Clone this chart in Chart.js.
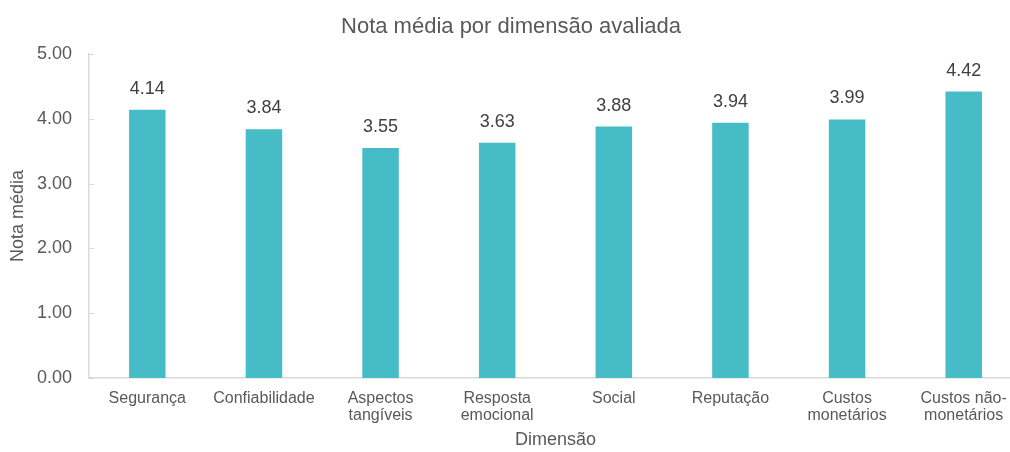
<!DOCTYPE html>
<html>
<head>
<meta charset="utf-8">
<script src="https://cdn.jsdelivr.net/npm/chart.js@4/dist/chart.umd.min.js"></script>
<style>
    html, body { margin: 0; padding: 0; background: #fff; overflow: hidden; }
    #wrap { width: 1022px; height: 452px; }
</style>
</head>
<body>
<div id="wrap"><canvas id="chart" width="1022" height="452"></canvas></div>
<script>
const categories = [
    'Segurança', 'Confiabilidade', ['Aspectos', 'tangíveis'], ['Resposta', 'emocional'],
    'Social', 'Reputação', ['Custos', 'monetários'], ['Custos não-', 'monetários']
]
const notas = [4.14, 3.84, 3.55, 3.63, 3.88, 3.94, 3.99, 4.42]
const yTicks = [0, 1, 2, 3, 4, 5]

const textColor = '#595959'
const axisColor = '#D9D9D9'
const fontFamily = '"Liberation Sans", Arial, sans-serif'

// value labels above each bar
const barLabels = {
    id: 'barLabels',
    afterDatasetsDraw(chart) {
        const ctx = chart.ctx
        const meta = chart.getDatasetMeta(0)
        ctx.save()
        ctx.font = '18px ' + fontFamily
        ctx.fillStyle = '#404040'
        ctx.textAlign = 'center'
        ctx.textBaseline = 'middle'
        meta.data.forEach((bar, i) => {
            ctx.fillText(notas[i].toFixed(2), bar.x, bar.y - 21)
        })
        ctx.restore()
    }
}

// small inward tick marks on the value axis
const innerTicks = {
    id: 'innerTicks',
    afterDraw(chart) {
        const ctx = chart.ctx
        const y = chart.scales.y
        ctx.save()
        ctx.strokeStyle = axisColor
        ctx.lineWidth = 1
        y.ticks.forEach(t => {
            const py = Math.round(y.getPixelForValue(t.value)) + 0.5
            ctx.beginPath()
            ctx.moveTo(y.right, py)
            ctx.lineTo(y.right + 5, py)
            ctx.stroke()
        })
        ctx.restore()
    }
}

new Chart(document.getElementById('chart'), {
    type: 'bar',
    data: {
        labels: categories,
        datasets: [{
            data: notas,
            backgroundColor: '#46BDC6',
            categoryPercentage: 1.0,
            barPercentage: 0.313,
        }]
    },
    options: {
        responsive: false,
        animation: false,
        layout: { padding: 0 },
        plugins: {
            legend: { display: false },
            tooltip: { enabled: false },
            title: {
                display: true,
                text: 'Nota média por dimensão avaliada',
                color: textColor,
                font: { family: fontFamily, size: 22, weight: 'normal' },
                padding: { top: 14, bottom: 13.6 },
            },
        },
        scales: {
            x: {
                grid: { display: false, drawTicks: false },
                border: { display: true, color: axisColor, width: 1.5 },
                ticks: {
                    color: textColor,
                    font: { family: fontFamily, size: 16, lineHeight: 1.06 },
                    padding: 12,
                    maxRotation: 0,
                    autoSkip: false,
                },
                title: {
                    display: true,
                    text: 'Dimensão',
                    color: textColor,
                    font: { family: fontFamily, size: 18 },
                    padding: { top: 0, bottom: 1 },
                },
                afterFit(scale) { scale.height = 74 },
            },
            y: {
                min: 0,
                max: 5,
                afterBuildTicks(scale) {
                    scale.ticks = yTicks.map(v => ({ value: v }))
                },
                grid: { display: false, drawTicks: false },
                border: { display: true, color: axisColor, width: 1.5 },
                ticks: {
                    color: textColor,
                    font: { family: fontFamily, size: 18 },
                    padding: 17,
                    callback: v => Number(v).toFixed(2),
                },
                title: {
                    display: true,
                    text: 'Nota média',
                    color: textColor,
                    font: { family: fontFamily, size: 18 },
                    padding: { top: 7, bottom: 0 },
                },
                afterFit(scale) { scale.width = 89 },
            }
        }
    },
    plugins: [barLabels, innerTicks]
})
</script>
</body>
</html>
